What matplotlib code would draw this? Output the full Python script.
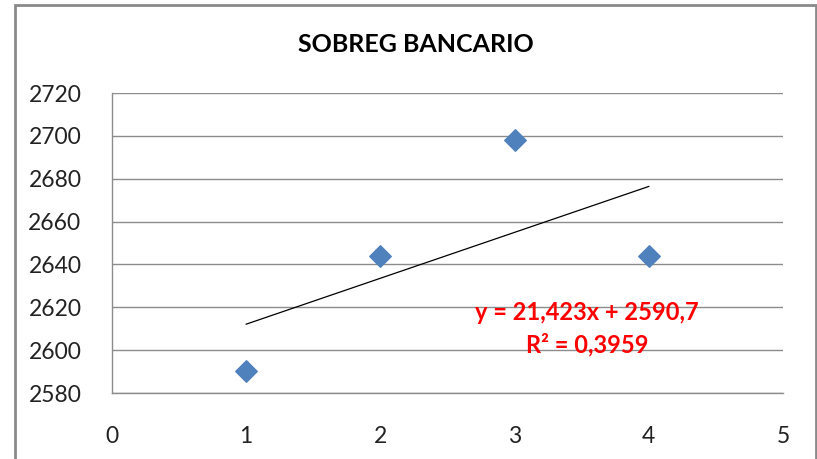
import matplotlib.pyplot as plt
from matplotlib.patches import Rectangle

# data
x_vals = [1, 2, 3, 4]
y_vals = [2590.5, 2644, 2698, 2644]
slope = 21.423
intercept = 2590.7
eq_text = 'y = 21,423x + 2590,7'
r2_text = 'R² = 0,3959'
x_ticks = [0, 1, 2, 3, 4, 5]
y_ticks = [2580, 2600, 2620, 2640, 2660, 2680, 2700, 2720]

plt.rcParams['font.family'] = ['Lato', 'DejaVu Sans']

fig = plt.figure(figsize=(8.17, 4.59), dpi=100)
ax = fig.add_axes([112 / 817, 1 - 393 / 459, 671 / 817, 300 / 459])

# trendline
tx = [x_vals[0], x_vals[-1]]
ty = [slope * v + intercept for v in tx]
ax.plot(tx, ty, color='black', lw=0.9, zorder=2)

ax.scatter(x_vals, y_vals, marker='D', s=120, color='#4F81BD', zorder=3)

ax.set_xlim(0, 5)
ax.set_ylim(2580, 2720)
ax.set_xticks(x_ticks)
ax.set_yticks(y_ticks)
ax.tick_params(length=0, labelsize=16.5, colors='#222222')
ax.tick_params(axis='x', pad=24)
ax.tick_params(axis='y', pad=22)
ax.grid(axis='y', color='#8c8c8c', lw=1)
for s in ['top', 'right']:
    ax.spines[s].set_visible(False)
for s in ['left', 'bottom']:
    ax.spines[s].set_color('#8c8c8c')
    ax.spines[s].set_linewidth(1)
ax.set_axisbelow(True)

fig.text(416 / 817, 1 - 45 / 459, 'SOBREG BANCARIO', ha='center', va='center',
         fontsize=18, fontweight='bold')

fig.text(587 / 817, 1 - 313 / 459, eq_text, ha='center', va='center',
         fontsize=17, fontweight='bold', color='#FF0000')
fig.text(587 / 817, 1 - 345 / 459, r2_text, ha='center', va='center',
         fontsize=17, fontweight='bold', color='#FF0000')

# outer chart border
fig.patches.append(Rectangle((15 / 817, -0.01), 801 / 817, 1 - 5 / 459 + 0.01,
                             transform=fig.transFigure, fill=False,
                             edgecolor='#8a8a8a', lw=2))

fig.savefig('out.png', dpi=100)
